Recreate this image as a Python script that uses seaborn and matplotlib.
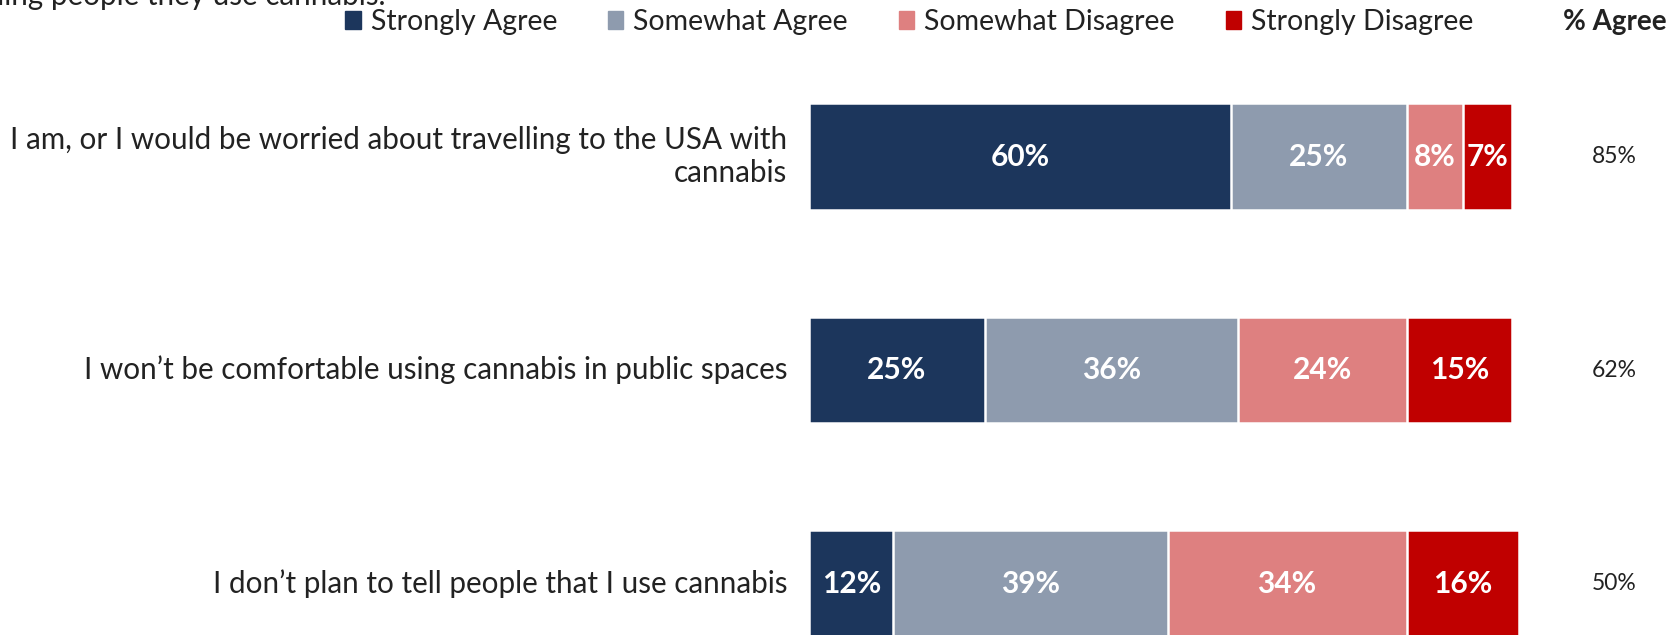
import matplotlib
matplotlib.use("Agg")
import matplotlib.pyplot as plt
from matplotlib.patches import Patch
import seaborn as sns
import pandas as pd

# Survey statements and response shares (%)
statements = [
    "I am, or I would be worried about travelling to the USA with\ncannabis",
    "I won\u2019t be comfortable using cannabis in public spaces",
    "I don\u2019t plan to tell people that I use cannabis",
]
responses = ["Strongly Agree", "Somewhat Agree", "Somewhat Disagree", "Strongly Disagree"]
strongly_agree = [60, 25, 12]
somewhat_agree = [25, 36, 39]
somewhat_disagree = [8, 24, 34]
strongly_disagree = [7, 15, 16]
pct_agree = ["85%", "62%", "50%"]

colors = ["#1C365C", "#8E9BAE", "#DE8080", "#C00000"]
FONT = ["Lato", "DejaVu Sans"]

sns.set_theme(style="white")
plt.rcParams["font.family"] = FONT

series = [strongly_agree, somewhat_agree, somewhat_disagree, strongly_disagree]
df = pd.DataFrame({"statement": statements})
cum = [0, 0, 0]
for name, vals in zip(responses, series):
    starts = list(cum)
    cum = [c + v for c, v in zip(cum, vals)]
    df[name + "_start"] = starts
    df[name + "_end"] = cum

fig = plt.figure(figsize=(16.73, 6.35), dpi=100)
ax = fig.add_axes([0, 0, 1, 1])

# Stacked bars: draw cumulative totals from the last segment backwards
for name, col in reversed(list(zip(responses, colors))):
    sns.barplot(data=df, x=name + "_end", y="statement", orient="h",
                color=col, width=0.5, edgecolor="white", linewidth=1.8,
                saturation=1, ax=ax)

ax.set_xlim(-115.08, 122.9)
ax.set_ylim(2.241, -0.733)
ax.axis("off")

# Segment value labels
for name, vals in zip(responses, series):
    for i, v in enumerate(vals):
        mid = (df.loc[i, name + "_start"] + df.loc[i, name + "_end"]) / 2
        ax.text(mid, i, f"{v}%", ha="center", va="center", color="white",
                fontsize=21.5, fontweight="bold")

# Statement labels
for i, s in enumerate(statements):
    ax.text(-3.1, i, s, ha="right", va="center", fontsize=21.3,
            color="#222222", linespacing=1.2, multialignment="right")

# % Agree column
for i, p in enumerate(pct_agree):
    ax.text(114.6, i, p, ha="center", va="center", fontsize=16.5, color="#222222")
fig.text(1615 / 1673, 1 - 22 / 635, "% Agree", ha="center", va="center",
         fontsize=20, fontweight="bold", color="#222222")

# Question text running off the top edge
fig.text(386 / 1673, 1 - 5 / 635, "telling people they use cannabis.", ha="right",
         va="baseline", fontsize=21.3, color="#222222")

handles = [Patch(facecolor=c, edgecolor=c) for c in colors]
fig.legend(handles, responses, loc="center left", bbox_to_anchor=(345 / 1673, 1 - 22 / 635),
           ncol=4, frameon=False, fontsize=20.5, handlelength=0.55, handleheight=0.55,
           handletextpad=0.35, columnspacing=1.78, borderaxespad=0, borderpad=0,
           labelcolor="#222222")

fig.savefig("out.png", dpi=100)
